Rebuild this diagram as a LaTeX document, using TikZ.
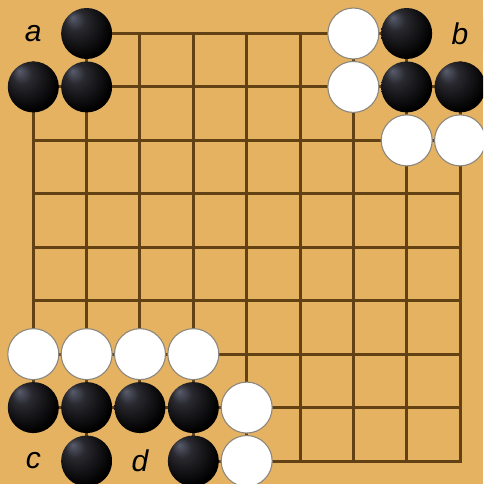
\documentclass[tikz,border=0pt]{standalone}
\usepackage{fontspec}
\setmainfont{Liberation Sans}
\definecolor{board}{RGB}{229,178,98}
\definecolor{gridc}{RGB}{98,66,20}
\definecolor{bhi}{RGB}{88,92,108}
\definecolor{bmid}{RGB}{40,40,46}
\definecolor{wedge}{RGB}{205,205,205}
\definecolor{wline}{RGB}{140,135,125}
\pgfdeclareradialshading{blackstone}{\pgfpoint{-14bp}{16bp}}{color(0bp)=(bhi); color(10bp)=(bmid); color(30bp)=(black); color(50bp)=(black)}
\pgfdeclareradialshading{whitestone}{\pgfpoint{-8bp}{10bp}}{color(0bp)=(white); color(28bp)=(white); color(45bp)=(wedge); color(50bp)=(wedge)}
\begin{document}
\begin{tikzpicture}[x=1pt,y=-1pt,
  gridline/.style={draw=gridc,line width=3pt},
  bstone/.style={circle,minimum size=51pt,inner sep=0pt,shading=blackstone},
  wstone/.style={circle,minimum size=51pt,inner sep=0pt,shading=whitestone,draw=wline,line width=1.1pt},
  lbl/.style={circle,minimum size=56pt,inner sep=0pt,fill=board,font=\fontsize{30}{30}\selectfont\itshape}]
\fill[board] (0,0) rectangle (483,484);
\useasboundingbox (0,0) rectangle (483,484);
\clip (0,0) rectangle (483,484);
% grid points
\foreach \i in {0,...,8}{
  \foreach \j in {0,...,8}{
    \coordinate (p-\i-\j) at ({33.3+53.34*\i},{33.5+53.44*\j});
  }
}
\foreach \k in {0,...,8}{
  \draw[gridline,line cap=rect] (p-\k-0) -- (p-\k-8);
  \draw[gridline,line cap=rect] (p-0-\k) -- (p-8-\k);
}
% labels
\node[lbl] (la) at (p-0-0) {a};
\node[lbl] (lb) at (p-8-0) {b};
\node[lbl] (lc) at (p-0-8) {c};
\node[lbl] (ld) at (p-2-8) {d};
% black stones
\foreach \i/\j in {1/0,0/1,1/1,7/0,7/1,8/1,0/7,1/7,2/7,3/7,1/8,3/8}{
  \node[bstone] (b-\i-\j) at (p-\i-\j) {};
}
% white stones
\foreach \i/\j in {6/0,6/1,7/2,8/2,0/6,1/6,2/6,3/6,4/7,4/8}{
  \node[wstone] (w-\i-\j) at (p-\i-\j) {};
}
\end{tikzpicture}
\end{document}
